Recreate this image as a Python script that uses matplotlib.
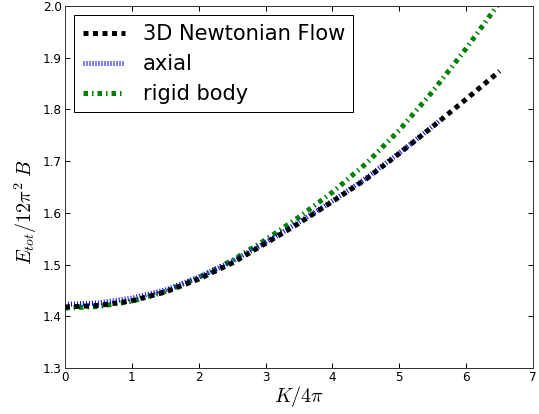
import matplotlib
matplotlib.use("Agg")
import matplotlib.pyplot as plt

K_newton = [0, 0.5, 1, 1.5, 2, 2.5, 3, 3.5, 4, 4.5, 5, 5.5, 6, 6.5]
E_newton = [1.418, 1.421, 1.430, 1.447, 1.472, 1.503, 1.541, 1.580, 1.622, 1.665, 1.715, 1.767, 1.820, 1.874]

K_axial = [0, 0.5, 1, 1.5, 2, 2.5, 3, 3.5, 4, 4.5, 5, 5.6]
E_axial = [1.423, 1.426, 1.435, 1.451, 1.476, 1.506, 1.543, 1.582, 1.623, 1.667, 1.716, 1.778]

K_rigid = [0, 0.5, 1, 1.5, 2, 2.5, 3, 3.5, 4, 4.5, 5, 5.5, 6, 6.5]
E_rigid = [1.416, 1.419, 1.429, 1.448, 1.475, 1.508, 1.548, 1.592, 1.640, 1.695, 1.760, 1.835, 1.918, 2.007]

labels = ["3D Newtonian Flow", "axial", "rigid body"]
xticks = [0, 1, 2, 3, 4, 5, 6, 7]
yticks = [1.3, 1.4, 1.5, 1.6, 1.7, 1.8, 1.9, 2.0]

plt.rcParams['mathtext.fontset'] = 'cm'
plt.rcParams['font.family'] = 'DejaVu Sans'

fig = plt.figure(figsize=(539/72, 414/72), dpi=72)
ax = fig.add_axes([0.1206, 0.111, 0.989 - 0.1206, 0.9855 - 0.111])

ax.plot(K_newton, E_newton, color='black', lw=5, dashes=(1.0, 0.9), dash_capstyle='butt', label=labels[0], zorder=3)
ax.plot(K_axial, E_axial, color='blue', lw=5, dashes=(0.2, 0.4), label=labels[1], zorder=2)
ax.plot(K_rigid, E_rigid, color='green', lw=5, dashes=(0.9, 0.8, 0.3, 0.8), label=labels[2], zorder=1)

ax.set_xlim(0, 7)
ax.set_ylim(1.3, 2.0)
ax.set_xticks(xticks)
ax.set_yticks(yticks)
ax.set_xticklabels([str(t) for t in xticks])
ax.set_yticklabels([f"{t:.1f}" for t in yticks])
ax.tick_params(direction='in', top=True, right=True, length=5, width=1, labelsize=12, pad=3)
for s in ax.spines.values():
    s.set_linewidth(1)
    s.set_color('#333333')

ax.set_xlabel(r'$K/4\pi$', fontsize=20, labelpad=0)
ax.set_ylabel(r'$E_{tot}/12\pi^2\;B$', fontsize=20)
ax.yaxis.set_label_coords(-0.056, 0.43)

leg = ax.legend(loc='upper left', fontsize=21, fancybox=False, framealpha=1,
                edgecolor='black', handlelength=2.0, borderaxespad=0.45,
                labelspacing=0.48, handletextpad=0.85)
leg.get_frame().set_linewidth(1)

fig.savefig('out.png', dpi=72)
